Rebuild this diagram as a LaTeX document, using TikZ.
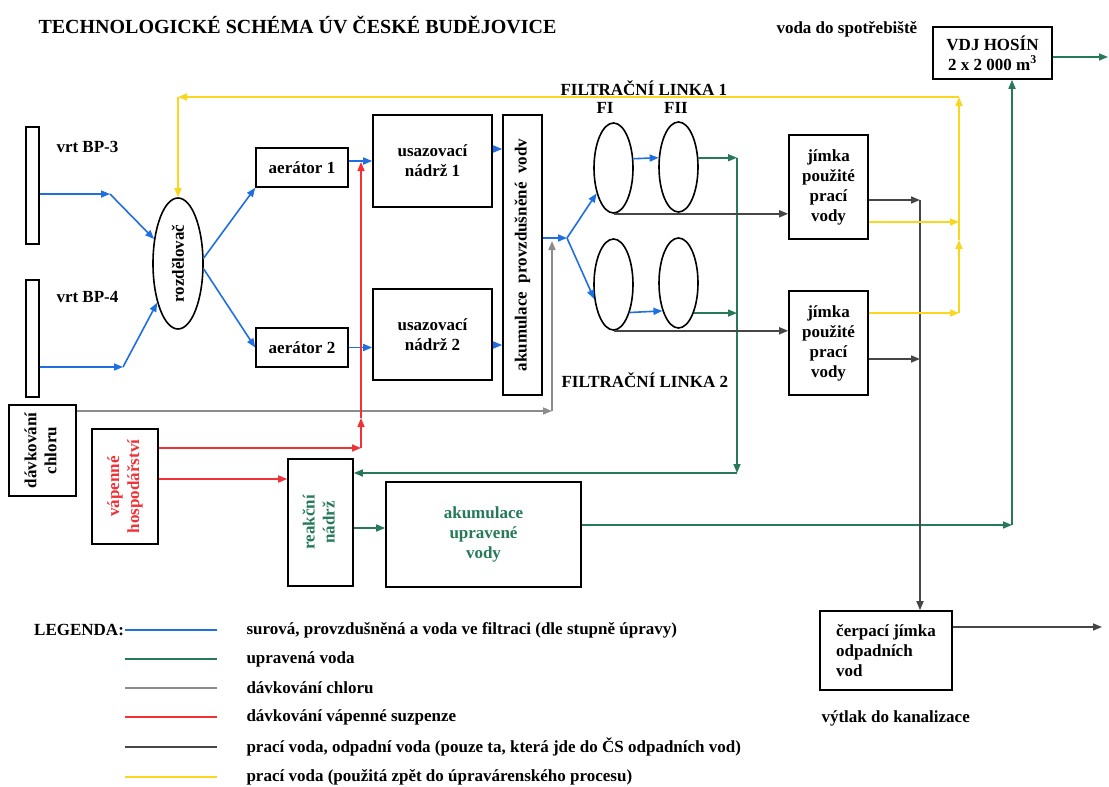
\documentclass[tikz,border=0pt]{standalone}
\usepackage{fontspec}
\setmainfont{Liberation Serif}
\usepackage{tikz}
\usetikzlibrary{shapes.geometric}
\usetikzlibrary{arrows.meta}
\usepackage{xcolor}
\definecolor{wblue}{RGB}{31,111,224}
\definecolor{wgreen}{RGB}{38,122,88}
\definecolor{wgray}{RGB}{140,140,140}
\definecolor{wred}{RGB}{240,50,55}
\definecolor{wdark}{RGB}{70,70,70}
\definecolor{wyellow}{RGB}{250,215,30}

\begin{document}
\begin{tikzpicture}[x=1pt,y=-1pt,font=\fontsize{17}{20}\selectfont\bfseries]
    \tikzstyle{box}=[draw,line width=1.6pt,inner sep=2pt,align=center]
    \tikzstyle{oval}=[draw,ellipse,line width=1.6pt,inner sep=0]
    \tikzstyle{flow}=[line width=1.6pt,-{Triangle[length=9pt,width=7pt]}]
    \tikzstyle{blueflow}=[flow,wblue]
    \tikzstyle{greenflow}=[flow,wgreen]
    \tikzstyle{grayflow}=[flow,wgray]
    \tikzstyle{redflow}=[flow,wred]
    \tikzstyle{darkflow}=[flow,wdark]
    \tikzstyle{yellowflow}=[flow,wyellow]
    \tikzstyle{legline}=[line width=1.6pt]
    \useasboundingbox[fill=white] (0,0) rectangle (1109,787);
    \node[anchor=west,font=\fontsize{20}{24}\selectfont\bfseries] (title) at (35,25) {TECHNOLOGICKÉ SCHÉMA ÚV ČESKÉ BUDĚJOVICE};
    \node[anchor=west] (spotreba) at (773,29) {voda do spotřebiště};
    \node[box,minimum width=119pt,minimum height=52pt] (vdj) at (992.5,53) {VDJ HOSÍN\\2 x 2 000 m\textsuperscript{3}};
    \node[box,minimum width=13pt,minimum height=117pt,inner sep=0] (bp3) at (32.5,185.5) {};
    \node[anchor=west] (bp3lab) at (53,147) {vrt BP-3};
    \node[box,minimum width=13pt,minimum height=117pt,inner sep=0] (bp4) at (32.5,338.5) {};
    \node[anchor=west] (bp4lab) at (53,297) {vrt BP-4};
    \node[oval,minimum width=50pt,minimum height=131pt] (rozd) at (178,263.5) {\rotatebox{90}{rozdělovač}};
    \node[box,minimum width=92pt,minimum height=39pt] (aer1) at (302,167.5) {aerátor 1};
    \node[box,minimum width=92pt,minimum height=39pt] (aer2) at (302,347.5) {aerátor 2};
    \node[box,minimum width=119pt,minimum height=92pt] (usaz1) at (432.5,161) {usazovací\\nádrž 1};
    \node[box,minimum width=119pt,minimum height=91pt] (usaz2) at (432.5,334.5) {usazovací\\nádrž 2};
    \node[box,minimum width=39pt,minimum height=280pt,inner sep=0] (akpv) at (522.5,255) {\rotatebox{90}{akumulace\ \ provzdušněné\ \ vodv}};
    \node[anchor=west] (linka1) at (557,88) {FILTRAČNÍ LINKA 1};
    \node[anchor=west] (linka2) at (558,380) {FILTRAČNÍ LINKA 2};
    \node (fIlab) at (605,108) {FI};
    \node (fIIlab) at (676,108) {FII};
    \node[oval,minimum width=39pt,minimum height=90pt] (fI1) at (613.5,168) {};
    \node[oval,minimum width=39pt,minimum height=90pt] (fII1) at (678.5,167) {};
    \node[oval,minimum width=39pt,minimum height=91pt] (fI2) at (613.5,284.5) {};
    \node[oval,minimum width=39pt,minimum height=90pt] (fII2) at (678.5,283) {};
    \node[box,minimum width=79pt,minimum height=104pt] (jim1) at (828.5,187) {jímka\\použité\\prací\\vody};
    \node[box,minimum width=79pt,minimum height=104pt] (jim2) at (828.5,343) {jímka\\použité\\prací\\vody};
    \node[box,minimum width=67pt,minimum height=91pt,inner sep=0] (chlor) at (42.5,450.5) {\rotatebox{90}{\begin{tabular}{@{}c@{}}dávkování\\chloru\end{tabular}}};
    \node[box,minimum width=66pt,minimum height=115pt,inner sep=0,text=wred] (vap) at (125,486.5) {\rotatebox{90}{\begin{tabular}{@{}c@{}}vápenné\\hospodářství\end{tabular}}};
    \node[box,minimum width=65pt,minimum height=127pt,inner sep=0,text=wgreen] (reak) at (320.5,522.5) {\rotatebox{90}{\begin{tabular}{@{}c@{}}reakční\\nádrž\end{tabular}}};
    \node[box,minimum width=195pt,minimum height=105pt,text=wgreen] (akuv) at (483.5,534.5) {akumulace\\upravené\\vody};
    \node[box,minimum width=132pt,minimum height=79pt,align=left] (cerp) at (886,650.5) {čerpací jímka\\odpadních\\vod};
    \node[anchor=west] (vytlak) at (818,718) {výtlak do kanalizace};
    % blue
    \coordinate (j3) at (110,194);
    \coordinate (j4) at (123,367);
    \draw[blueflow] (bp3.east |- j3) -- (j3);
    \draw[blueflow] (j3) -- (rozd);
    \draw[blueflow] (bp4.east |- j4) -- (j4);
    \draw[blueflow] (j4) -- (rozd);
    \draw[blueflow] (rozd.12) -- (aer1.south west);
    \draw[blueflow] (rozd.348) -- (aer2.west);
    \draw[blueflow] (aer1.east |- usaz1.west) -- (usaz1.west);
    \draw[blueflow] (aer2.east) -- (usaz2.west |- aer2.east);
    \draw[blueflow] (usaz1.east |- 0,149) -- (akpv.west |- 0,149);
    \draw[blueflow] (usaz2.east |- 0,345) -- (akpv.west |- 0,345);
    \coordinate (split) at (567,238);
    \draw[blueflow] (akpv.east |- split) -- (split);
    \draw[blueflow] (split) -- (fI1);
    \draw[blueflow] (split) -- (fI2.217);
    \draw[blueflow] (fI1.25) -- (fII1.155);
    \draw[blueflow] (fI2.300) -- (fII2.240);
    % green
    \coordinate (gv) at (737,473);
    \draw[greenflow] (fII1.25) -- (fII1.25 -| gv);
    \draw[greenflow] (fII2.297) -- (fII2.297 -| gv);
    \draw[greenflow] (fII1.25 -| gv) -- (gv);
    \draw[greenflow] (gv) -- (reak.east |- gv);
    \draw[greenflow] (reak.east |- 0,528) -- (akuv.west |- 0,528);
    \coordinate (gr) at (1012,525);
    \draw[greenflow] (akuv.east |- gr) -- (gr);
    \draw[greenflow] (gr) -- (vdj.south -| gr);
    \coordinate (vystup) at (1108,57);
    \draw[greenflow] (vdj.east |- vystup) -- (vystup);
    % dark
    \draw[darkflow] (fI1.south) -- (jim1.west |- fI1.south);
    \draw[darkflow] (fI2.south) -- (jim2.west |- fI2.south);
    \coordinate (dv) at (920,200);
    \draw[darkflow] (jim1.east |- dv) -- (dv);
    \draw[darkflow] (jim2.east |- 0,359) -- (dv |- 0,359);
    \draw[darkflow] (dv) -- (dv |- cerp.north);
    \coordinate (kanal) at (1102,627);
    \draw[darkflow] (cerp.east |- kanal) -- (kanal);
    % yellow
    \coordinate (yr) at (959,97);
    \coordinate (yl) at (178,97);
    \draw[yellowflow] (jim1.east |- 0,222) -- (yr |- 0,222);
    \draw[yellowflow] (jim2.east |- 0,313) -- (yr |- 0,313);
    \draw[yellowflow] (yr |- 0,313) -- (yr |- 0,240);
    \draw[yellowflow] (yr |- 0,240) -- (yr);
    \draw[yellowflow] (yr) -- (yl);
    \draw[yellowflow] (yl) -- (rozd.north);
    % gray
    \coordinate (cl) at (552,411);
    \draw[grayflow] (chlor.east |- cl) -- (cl);
    \draw[grayflow] (cl) -- (cl |- 0,241);
    % red
    \coordinate (rv) at (361,448);
    \draw[redflow] (vap.east |- rv) -- (rv);
    \draw[redflow] (rv) -- (rv |- 0,418);
    \draw[redflow] (rv |- 0,418) -- (rv |- 0,162);
    \draw[redflow] (vap.east |- 0,479) -- (reak.west |- 0,479);
    % legenda
    \node[anchor=west,inner sep=1pt] (leg) at (33,630) {LEGENDA:};
    \draw[legline,wblue] (leg.east) -- (217,630);
    \draw[legline,wgreen] (125,659) -- (217,659);
    \draw[legline,wgray] (125,688) -- (217,688);
    \draw[legline,wred] (125,717) -- (217,717);
    \draw[legline,wdark] (125,747) -- (217,747);
    \draw[legline,wyellow] (125,777) -- (217,777);
    \node[anchor=west] (leg1) at (243,630) {surová, provzdušněná a voda ve filtraci (dle stupně úpravy)};
    \node[anchor=west] (leg2) at (243,659) {upravená voda};
    \node[anchor=west] (leg3) at (243,688) {dávkování chloru};
    \node[anchor=west] (leg4) at (243,717) {dávkování vápenné suzpenze};
    \node[anchor=west] (leg5) at (243,747) {prací voda, odpadní voda (pouze ta, která jde do ČS odpadních vod)};
    \node[anchor=west] (leg6) at (243,777) {prací voda (použitá zpět do úpravárenského procesu)};
\end{tikzpicture}
\end{document}
